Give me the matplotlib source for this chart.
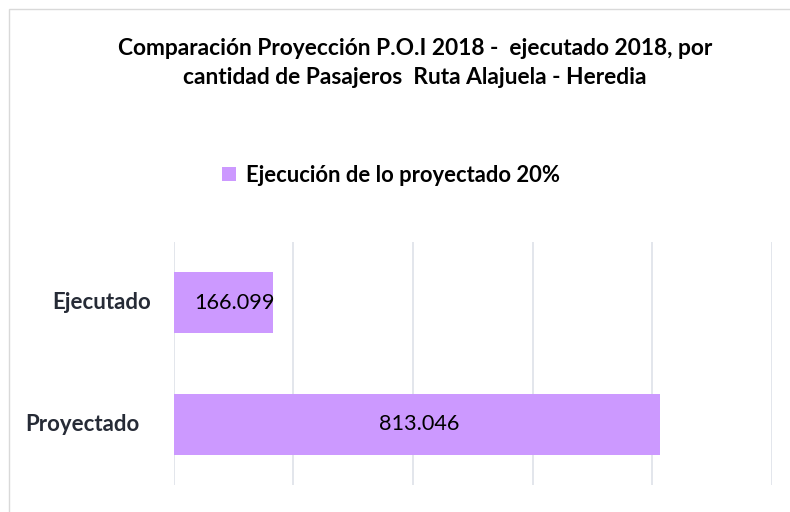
import matplotlib.pyplot as plt
from matplotlib.patches import Rectangle, Patch
import matplotlib.transforms as mtransforms

plt.rcParams['font.family'] = ['Lato', 'DejaVu Sans']

# datos
categorias = ['Proyectado', 'Ejecutado']
pasajeros = [813046, 166099]
etiquetas = ['813.046', '166.099']
leyenda = 'Ejecución de lo proyectado 20%'
titulo = 'Comparación Proyección P.O.I 2018 -  ejecutado 2018, por\ncantidad de Pasajeros  Ruta Alajuela - Heredia'

color_barra = '#CC99FF'
color_grid = '#E1E4EA'
color_texto = '#262B36'

W, H = 790, 512
fig = plt.figure(figsize=(W / 100, H / 100), dpi=100)

# borde del gráfico
fig.patches.append(Rectangle((9 / W, -0.05), 1.2, 1 - 9 / H + 0.05, transform=fig.transFigure,
                             fill=False, edgecolor='#D9D9D9', linewidth=1))

ax = fig.add_axes([173.5 / W, 1 - 485 / H, (772 - 173.5) / W, (485 - 242) / H])
ax.barh(categorias, pasajeros, height=0.5, color=color_barra, zorder=2)
ax.set_xlim(0, 1000000)
ax.set_ylim(-0.5, 1.5)
ax.set_xticks(range(0, 1000001, 200000))
ax.grid(axis='x', color=color_grid, linewidth=1.3, zorder=0)
ax.tick_params(left=False, bottom=False, labelbottom=False, labelleft=False)
for s in ax.spines.values():
    s.set_visible(False)

# etiquetas de datos
desp = [2, 11]
for i, (v, t) in enumerate(zip(pasajeros, etiquetas)):
    tr = mtransforms.offset_copy(ax.transData, fig=fig, x=desp[i], y=0, units='dots')
    ax.text(v / 2, i, t, ha='center', va='center', fontsize=15.6, color='black',
            zorder=3, transform=tr)

# etiquetas de categoría
offs = [-34, -23]
for i, c in enumerate(categorias):
    tr = mtransforms.offset_copy(ax.get_yaxis_transform(), fig=fig, x=offs[i], y=0, units='dots')
    ax.text(0, i, c, ha='right', va='center', fontsize=16, fontweight='bold',
            color=color_texto, transform=tr)

fig.text(415 / W, 1 - 63 / H, titulo, ha='center', va='center', fontsize=16.4,
         fontweight='bold', color='black', linespacing=1.42)

fig.legend(handles=[Patch(facecolor=color_barra, label=leyenda)], loc='center',
           bbox_to_anchor=(391 / W, 1 - 175 / H), frameon=False, handlelength=0.6,
           handleheight=0.6, handletextpad=0.45,
           prop={'size': 15.8, 'weight': 'bold'})

fig.savefig('out.png', dpi=100)
